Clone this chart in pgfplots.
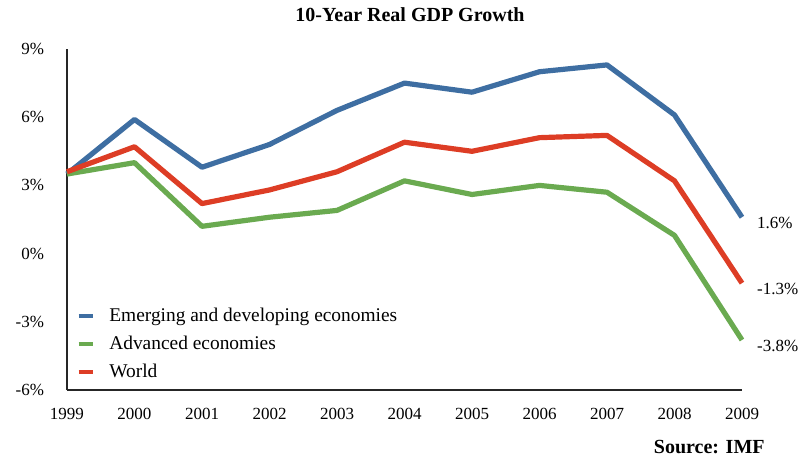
\documentclass[border=0pt]{standalone}
\usepackage{fontspec}
\setmainfont{Liberation Serif}
\usepackage{pgfplots}
\pgfplotsset{compat=1.18}

\definecolor{emblue}{HTML}{3E6EA2}
\definecolor{advgreen}{HTML}{6AAA50}
\definecolor{wred}{HTML}{DD3D25}

\begin{document}
\begin{tikzpicture}
\begin{axis}[
  at={(0,0)}, anchor=south west,
  scale only axis,
  width=337.5bp, height=170.5bp,
  xmin=1999, xmax=2009,
  ymin=-6, ymax=9,
  clip=false,
  axis x line*=bottom,
  axis y line*=left,
  axis line style={line width=0.7bp, black!85},
  major tick length=0pt,
  xtick={1999,2000,2001,2002,2003,2004,2005,2006,2007,2008,2009},
  xticklabels={1999,2000,2001,2002,2003,2004,2005,2006,2007,2008,2009},
  ytick={-6,-3,0,3,6,9},
  yticklabels={-6\%,-3\%,0\%,3\%,6\%,9\%},
  ticklabel style={font=\fontsize{8.5bp}{10bp}\selectfont},
  xticklabel style={yshift=-5.5bp},
  yticklabel style={xshift=-8bp},
  legend style={at={(0.005,0.265)}, anchor=north west, draw=none, fill=none,
    font=\fontsize{9.7bp}{11bp}\selectfont, row sep=1.8bp,
    /tikz/every odd column/.append style={column sep=5.5bp}},
  legend cell align=left,
  legend image code/.code={\draw[#1, line width=1.8bp] (0bp,0bp) -- (7bp,0bp);},
  every axis plot/.append style={line width=2.6bp, line join=round},
]
\addplot[emblue] coordinates {
  (1999,3.5) (2000,5.9) (2001,3.8) (2002,4.8) (2003,6.3) (2004,7.5)
  (2005,7.1) (2006,8.0) (2007,8.3) (2008,6.1) (2009,1.6)}
  node[pos=1, anchor=west, xshift=3bp, yshift=-3bp, text=black,
       font=\fontsize{8.5bp}{10bp}\selectfont] {1.6\%};
\addlegendentry{Emerging and developing economies}
\addplot[advgreen] coordinates {
  (1999,3.5) (2000,4.0) (2001,1.2) (2002,1.6) (2003,1.9) (2004,3.2)
  (2005,2.6) (2006,3.0) (2007,2.7) (2008,0.8) (2009,-3.8)}
  node[pos=1, anchor=west, xshift=3bp, yshift=-3bp, text=black,
       font=\fontsize{8.5bp}{10bp}\selectfont] {-3.8\%};
\addlegendentry{Advanced economies}
\addplot[wred] coordinates {
  (1999,3.6) (2000,4.7) (2001,2.2) (2002,2.8) (2003,3.6) (2004,4.9)
  (2005,4.5) (2006,5.1) (2007,5.2) (2008,3.2) (2009,-1.3)}
  node[pos=1, anchor=west, xshift=3bp, yshift=-3bp, text=black,
       font=\fontsize{8.5bp}{10bp}\selectfont] {-1.3\%};
\addlegendentry{World}
\end{axis}
\node[font=\bfseries\fontsize{10bp}{12bp}\selectfont] at (171.5bp,187.5bp) {10-Year Real GDP Growth};
\node[anchor=east, font=\bfseries\fontsize{10bp}{12bp}\selectfont, inner sep=0pt] at (349bp,-28.5bp) {Source: IMF};
\pgfresetboundingbox
\path (-33.5bp,-34bp) rectangle (368.5bp,195bp);
\end{tikzpicture}
\end{document}
